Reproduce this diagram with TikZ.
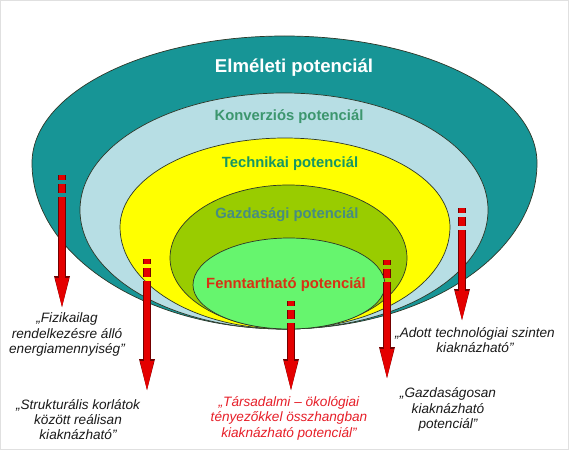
\documentclass[tikz,border=0pt]{standalone}
\usepackage{fontspec}
\setmainfont{Liberation Sans}
\usetikzlibrary{arrows.meta}
\definecolor{elmteal}{RGB}{23,149,150}
\definecolor{konvblue}{RGB}{183,222,228}
\definecolor{techyellow}{RGB}{255,255,0}
\definecolor{gazdolive}{RGB}{153,204,0}
\definecolor{fennlime}{RGB}{102,245,110}
\definecolor{zoneline}{RGB}{45,55,40}
\definecolor{konvtext}{RGB}{60,150,110}
\definecolor{techtext}{RGB}{20,150,100}
\definecolor{gazdtext}{RGB}{70,140,130}
\definecolor{fenntext}{RGB}{215,50,20}
\definecolor{arrowred}{RGB}{228,0,0}
\definecolor{arrowline}{RGB}{115,0,0}
\definecolor{notered}{RGB}{230,30,40}
\definecolor{notetext}{RGB}{25,25,25}
\tikzset{arrowdash/.style={dash pattern=on 5pt off 4pt on 9pt off 4pt on 400pt off 0pt}}
\begin{document}
\begin{tikzpicture}[x=1pt,y=-1pt,
    potlabel/.style={font=\bfseries\fontsize{14.8}{16}\selectfont, inner sep=0pt},
    note/.style={font=\itshape\fontsize{13.6}{15.4}\selectfont, align=center, inner sep=0pt, notetext},
    zone/.style={draw=zoneline, line width=0.7pt},
    downarrow/.style={line width=6pt, arrowred, line cap=butt, arrowdash,
        -{Triangle[width=14pt,length=29pt,line width=0pt]},
        preaction={draw=arrowline, line width=7.2pt, arrowdash,
            -{Triangle[width=16pt,length=31pt,line width=0pt]}}}]
    \useasboundingbox (0,0) rectangle (570,452);
    \draw[black!12] (0.5,0.5) rectangle (568.5,449.5);
    % the nested potentials
    \path[zone, fill=elmteal] (32,163) arc[start angle=180, end angle=0, x radius=252.5pt, y radius=127pt]
        arc[start angle=0, end angle=-180, x radius=252.5pt, y radius=166pt] -- cycle;
    \path[zone, fill=konvblue] (80,210) arc[start angle=180, end angle=0, x radius=204pt, y radius=117pt]
        arc[start angle=0, end angle=-180, x radius=204pt, y radius=119pt] -- cycle;
    \path[zone, fill=techyellow] (120,227) arc[start angle=180, end angle=0, x radius=165pt, y radius=89pt]
        arc[start angle=0, end angle=-180, x radius=165pt, y radius=102pt] -- cycle;
    \path[zone, fill=gazdolive] (170,258) arc[start angle=180, end angle=0, x radius=118.5pt, y radius=73pt]
        arc[start angle=0, end angle=-180, x radius=118.5pt, y radius=71pt] -- cycle;
    \path[zone, fill=fennlime] (193,285) arc[start angle=180, end angle=0, x radius=96pt, y radius=47pt]
        arc[start angle=0, end angle=-180, x radius=96pt, y radius=44pt] -- cycle;
    \node[potlabel, white, font=\bfseries\fontsize{18.6}{20}\selectfont] (elm) at (294,68) {Elméleti potenciál};
    \node[potlabel, konvtext] (konv) at (289,117) {Konverziós potenciál};
    \node[potlabel, techtext] (tech) at (290,164) {Technikai potenciál};
    \node[potlabel, gazdtext] (gazd) at (287,215) {Gazdasági potenciál};
    \node[potlabel, fenntext] (fenn) at (286,285) {Fenntartható potenciál};
    % explanations
    \node[note] (fiz) at (67,334.5) {„Fizikailag\\rendelkezésre álló\\energiamennyiség”};
    \node[note] (strukt) at (78,419.5) {„Strukturális korlátok\\között reálisan\\kiaknázható”};
    \node[note, notered] (tars) at (289,418) {„Társadalmi – ökológiai\\tényezőkkel összhangban\\kiaknázható potenciál”};
    \node[note] (adott) at (475,340) {„Adott technológiai szinten\\kiaknázható”};
    \node[note] (gazdos) at (448,409.5) {„Gazdaságosan\\kiaknázható\\potenciál”};
    \coordinate (fiz-s) at (62,175);   \coordinate (fiz-e) at (62,307);
    \coordinate (strukt-s) at (147,259); \coordinate (strukt-e) at (147,390);
    \coordinate (tars-s) at (291,301);  \coordinate (tars-e) at (291,390);
    \coordinate (gazdos-s) at (387,260); \coordinate (gazdos-e) at (387,378);
    \coordinate (adott-s) at (462,208); \coordinate (adott-e) at (462,320);
    \draw[downarrow] (fiz-s) -- (fiz-e);
    \draw[downarrow] (strukt-s) -- (strukt-e);
    \draw[downarrow] (tars-s) -- (tars-e);
    \draw[downarrow] (gazdos-s) -- (gazdos-e);
    \draw[downarrow] (adott-s) -- (adott-e);
\end{tikzpicture}
\end{document}
